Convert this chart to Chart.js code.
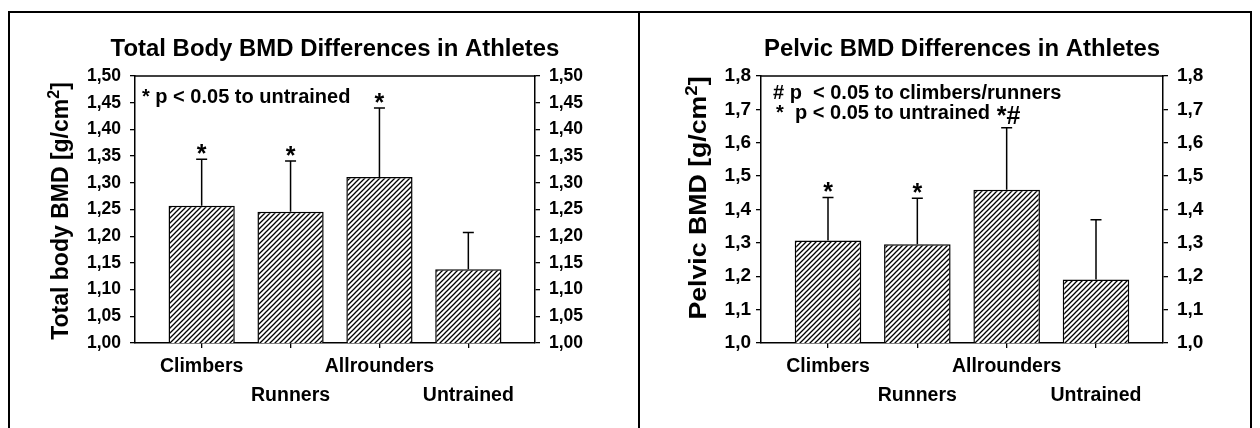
<!DOCTYPE html>
<html><head><meta charset="utf-8">
<script src="https://cdn.jsdelivr.net/npm/chart.js@4.4.0/dist/chart.umd.min.js"></script>
<style>
html,body{margin:0;padding:0;background:#fff;}
body{width:1260px;height:428px;position:relative;overflow:hidden;}
.frame{position:absolute;background:#000;z-index:2;}
.wrap{position:absolute;}
</style></head><body>
<div class="frame" style="left:8px;top:11px;width:2px;height:417px"></div>
<div class="frame" style="left:8px;top:11px;width:1244px;height:2px"></div>
<div class="frame" style="left:638px;top:11px;width:2px;height:417px"></div>
<div class="frame" style="left:1250px;top:11px;width:2px;height:417px"></div>
<div class="wrap" style="left:10px;top:13px;width:628px;height:415px"><canvas id="c1"></canvas></div>
<div class="wrap" style="left:640px;top:13px;width:610px;height:415px"><canvas id="c2"></canvas></div>
<script>
// ---- data ----
const categories = ['Climbers', 'Runners', 'Allrounders', 'Untrained'];
const totalBodyMean = [1.257, 1.246, 1.311, 1.138];
const totalBodySD   = [0.087, 0.095, 0.129, 0.069];
const totalBodySig  = ['*', '*', '*', ''];
const totalBodyTicks = [1.00, 1.05, 1.10, 1.15, 1.20, 1.25, 1.30, 1.35, 1.40, 1.45, 1.50];
const pelvicMean = [1.307, 1.296, 1.459, 1.190];
const pelvicSD   = [0.129, 0.138, 0.186, 0.179];
const pelvicSig  = ['*', '*', '*#', ''];
const pelvicTicks = [1.0, 1.1, 1.2, 1.3, 1.4, 1.5, 1.6, 1.7, 1.8];

const FAM = '"Liberation Sans", Arial, Helvetica, sans-serif';
Chart.defaults.font.family = FAM;
Chart.defaults.color = '#000';

function hatch() {
  const s = 5, c = document.createElement('canvas');
  c.width = s; c.height = s;
  const g = c.getContext('2d');
  g.fillStyle = '#fff'; g.fillRect(0, 0, s, s);
  g.strokeStyle = '#000'; g.lineWidth = 1.3;
  g.beginPath();
  g.moveTo(0, s); g.lineTo(s, 0);
  g.moveTo(-1, 1); g.lineTo(1, -1);
  g.moveTo(s - 1, s + 1); g.lineTo(s + 1, s - 1);
  g.stroke();
  return c;
}

const decor = {
  id: 'decor',
  afterDraw(chart, args, o) {
    const ctx = chart.ctx, ca = chart.chartArea;
    const xs = chart.scales.x, ys = chart.scales.y;
    ctx.save();
    ctx.strokeStyle = '#000'; ctx.fillStyle = '#000'; ctx.lineWidth = 1.5;
    // chart title
    ctx.save();
    ctx.font = 'bold 23px ' + FAM;
    ctx.textAlign = 'center'; ctx.textBaseline = 'alphabetic';
    ctx.translate((ca.left + ca.right) / 2, ca.top - 20);
    ctx.scale(o.titleSx, 1);
    ctx.fillText(o.title, 0, 0);
    ctx.restore();
    // top frame line
    ctx.beginPath(); ctx.moveTo(ca.left - 0.75, ca.top); ctx.lineTo(ca.right + 0.75, ca.top); ctx.stroke();
    // error bars + significance marks
    o.mean.forEach((m, i) => {
      const x = xs.getPixelForValue(i);
      const y0 = ys.getPixelForValue(m);
      const y1 = ys.getPixelForValue(m + o.sd[i]);
      ctx.beginPath();
      ctx.moveTo(x, y0); ctx.lineTo(x, y1);
      ctx.moveTo(x - 5.5, y1); ctx.lineTo(x + 5.5, y1);
      ctx.stroke();
      const s = o.sig[i];
      if (s) {
        ctx.font = 'bold 25px ' + FAM;
        ctx.textAlign = 'center'; ctx.textBaseline = 'alphabetic';
        ctx.fillText(s, x + (s.length > 1 ? 2 : 0), y1 + (s.length > 1 ? -4 : 3));
      }
    });
    // annotation text
    ctx.font = 'bold 20px ' + FAM;
    ctx.textAlign = 'left'; ctx.textBaseline = 'alphabetic';
    o.notes.forEach(n => ctx.fillText(n.t, ca.left + n.dx, ca.top + n.dy));
    // y axis title with superscript
    ctx.translate(ca.left - o.yt.dx, ca.top + o.yt.dy);
    ctx.rotate(-Math.PI / 2);
    ctx.scale(o.yt.sx, 1);
    const big = 'bold 23px ' + FAM, small = 'bold 16px ' + FAM;
    ctx.font = big; const w1 = ctx.measureText(o.yt.text).width; const w3 = ctx.measureText(']').width;
    ctx.font = small; const w2 = ctx.measureText('2').width;
    const tot = w1 + w2 + w3;
    let px = -tot / 2;
    ctx.textAlign = 'left'; ctx.textBaseline = 'alphabetic';
    ctx.font = big; ctx.fillText(o.yt.text, px, 8); px += w1;
    ctx.font = small; ctx.fillText('2', px, -1); px += w2;
    ctx.font = big; ctx.fillText(']', px, 8);
    ctx.restore();
  }
};

function makeChart(id, title, titleSx, mean, sd, sig, ticks, dec, tickSize, notes, yt, leftW, rightW) {
  const fmt = v => v.toFixed(dec).replace('.', ',');
  const yOpts = (pos, w) => ({
    type: 'linear', position: pos,
    min: ticks[0], max: ticks[ticks.length - 1],
    afterBuildTicks: s => { s.ticks = ticks.map(v => ({ value: v })); },
    afterFit: s => { s.width = w; },
    border: { display: true, color: '#000', width: 1.5 },
    grid: { display: true, drawOnChartArea: false, drawTicks: true, tickLength: 5, color: '#000', lineWidth: 1.3 },
    ticks: { callback: v => fmt(v), font: { size: tickSize, weight: 'bold' }, color: '#000', padding: pos === 'left' ? (dec === 2 ? 9 : 5) : 9 },
    title: { display: false }
  });
  return new Chart(document.getElementById(id), {
    type: 'bar',
    data: {
      datasets: [{
        data: categories.map((c, i) => ({ x: i, y: mean[i] })),
        backgroundColor: null,
        borderColor: '#000', borderWidth: 1.5,
        categoryPercentage: 1, barPercentage: 0.745
      }]
    },
    options: {
      responsive: true, maintainAspectRatio: false, animation: false,
      layout: { padding: { top: 63, left: 0, right: 0, bottom: 0 } },
      scales: {
        x: {
          type: 'linear', min: -0.75, max: 3.75, offset: false,
          afterBuildTicks: s => { s.ticks = categories.map((c, i) => ({ value: i })); },
          afterFit: s => { s.height = 85; },
          border: { display: true, color: '#000', width: 1.5 },
          grid: { display: true, offset: false, drawOnChartArea: false, drawTicks: true, tickLength: 5, color: '#000', lineWidth: 1.3 },
          ticks: {
            callback: v => (v % 2 ? ['', categories[v]] : categories[v]),
            maxRotation: 0, autoSkip: false, padding: 4,
            font: { size: 19.5, weight: 'bold', lineHeight: 1.5 }, color: '#000'
          }
        },
        y: yOpts('left', leftW),
        y2: yOpts('right', rightW)
      },
      plugins: {
        legend: { display: false },
        tooltip: { enabled: false },
        title: { display: false },
        decor: { title, titleSx, mean, sd, sig, notes, yt }
      }
    },
    plugins: [decor, {
      id: 'pat',
      beforeDatasetsDraw(chart) {
        const p = chart.ctx.createPattern(hatch(), 'repeat');
        chart.data.datasets[0].backgroundColor = p;
        chart.getDatasetMeta(0).data.forEach(el => { el.options.backgroundColor = p; });
      }
    }]
  });
}

makeChart('c1', 'Total Body BMD Differences in Athletes', 1.04,
  totalBodyMean, totalBodySD, totalBodySig, totalBodyTicks, 2, 17.5,
  [{ t: '* p < 0.05 to untrained', dx: 7, dy: 27 }],
  { text: 'Total body BMD [g/cm', dx: 75, dy: 135, sx: 1.0 }, 125, 103);

makeChart('c2', 'Pelvic BMD Differences in Athletes', 1.04,
  pelvicMean, pelvicSD, pelvicSig, pelvicTicks, 1, 19,
  [{ t: '# p  < 0.05 to climbers/runners', dx: 12, dy: 23 },
   { t: '*', dx: 15, dy: 43 },
   { t: 'p < 0.05 to untrained', dx: 34, dy: 43 }],
  { text: 'Pelvic BMD [g/cm', dx: 63, dy: 122, sx: 1.16 }, 121, 87);
</script>
</body></html>
